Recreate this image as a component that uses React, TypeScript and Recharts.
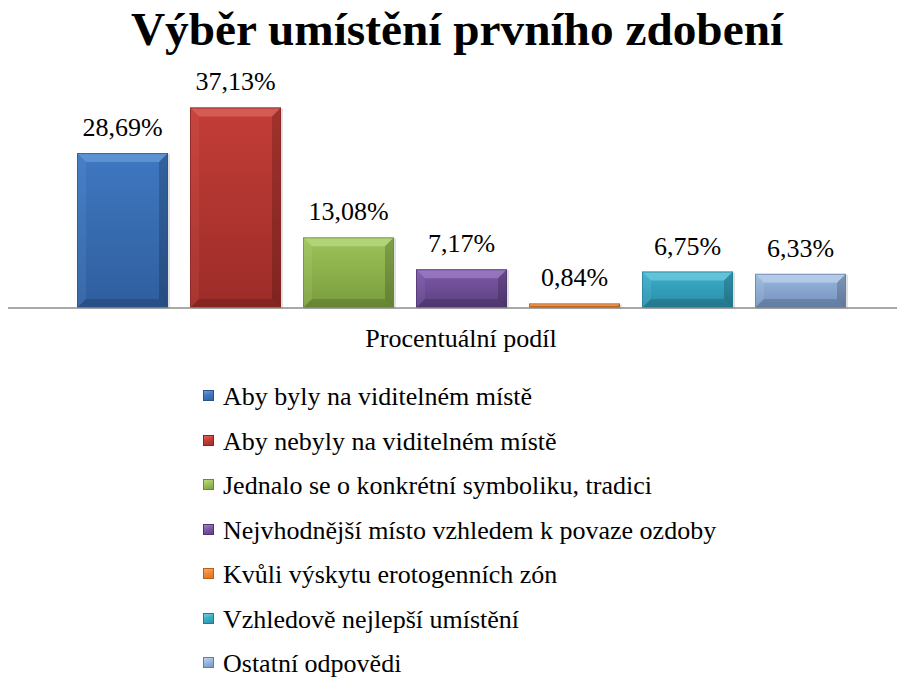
import React from 'react';
import { BarChart, Bar, XAxis, YAxis, Legend, LabelList } from 'recharts';

const categories = ['Procentuální podíl'];
const seriesNames = [
  'Aby byly na viditelném místě',
  'Aby nebyly na viditelném místě',
  'Jednalo se o konkrétní symboliku, tradici',
  'Nejvhodnější místo vzhledem k povaze ozdoby',
  'Kvůli výskytu erotogenních zón',
  'Vzhledově nejlepší umístění',
  'Ostatní odpovědi',
];
const seriesValues = [28.69, 37.13, 13.08, 7.17, 0.84, 6.75, 6.33];
const title = 'Výběr umístění prvního zdobení';

const PALETTE = [
  { top: '#3F78C1', bottom: '#2F5E9E', light: '#79A8E2', edge: '#2A5288' },
  { top: '#C43D37', bottom: '#9C2C28', light: '#E4746D', edge: '#852521' },
  { top: '#9DC35A', bottom: '#7A9C3C', light: '#C6E191', edge: '#6A8A33' },
  { top: '#7E5AA8', bottom: '#5B3F80', light: '#AD8DD4', edge: '#4C346D' },
  { top: '#F08A3A', bottom: '#D9731F', light: '#F8B57E', edge: '#B85F18' },
  { top: '#3BB0CB', bottom: '#2A8BA5', light: '#84D5E8', edge: '#237A91' },
  { top: '#9AB8DE', bottom: '#7490BC', light: '#CADDF4', edge: '#627EA6' },
];

const FONT = 'Liberation Serif, Times New Roman, serif';

const data = categories.map((name) => {
  const row: Record<string, string | number> = { name };
  seriesValues.forEach((v, i) => {
    row[`s${i}`] = v;
  });
  return row;
});

function BevelBar(props: any) {
  const { x, y, width, height, colorIndex } = props;
  if (!height || height <= 0) return null;
  const c = PALETTE[colorIndex];
  const b = Math.min(9, height / 2, width / 2);
  const id = `bargrad-${colorIndex}`;
  const x2 = x + width;
  const y2 = y + height;
  return (
    <g>
      <defs>
        <linearGradient id={id} x1="0" y1="0" x2="0" y2="1">
          <stop offset="0%" stopColor={c.top} />
          <stop offset="100%" stopColor={c.bottom} />
        </linearGradient>
      </defs>
      <rect x={x + 2} y={y + 1} width={width} height={height} fill="#000" opacity={0.12} />
      <rect x={x} y={y} width={width} height={height} fill={`url(#${id})`} />
      <polygon
        points={`${x},${y} ${x2},${y} ${x2 - b},${y + b} ${x + b},${y + b}`}
        fill={c.light}
        opacity={0.55}
      />
      <polygon
        points={`${x},${y} ${x + b},${y + b} ${x + b},${y2 - b} ${x},${y2}`}
        fill={c.light}
        opacity={0.15}
      />
      <polygon
        points={`${x2},${y} ${x2},${y2} ${x2 - b},${y2 - b} ${x2 - b},${y + b}`}
        fill="#000"
        opacity={0.18}
      />
      <polygon
        points={`${x},${y2} ${x + b},${y2 - b} ${x2 - b},${y2 - b} ${x2},${y2}`}
        fill="#000"
        opacity={0.15}
      />
      <rect x={x + 0.5} y={y + 0.5} width={width - 1} height={height - 1} fill="none" stroke={c.edge} strokeWidth={1} opacity={0.7} />
    </g>
  );
}

const fmt = (v: any) => `${Number(v).toFixed(2).replace('.', ',')}%`;

function LegendContent() {
  return (
    <div style={{ fontFamily: FONT, fontSize: 26, color: '#000', whiteSpace: 'nowrap' }}>
      {seriesNames.map((n, i) => {
        const c = PALETTE[i];
        return (
          <div key={n} style={{ lineHeight: '44.5px', height: 44.5 }}>
            <span
              style={{
                display: 'inline-block',
                width: 11,
                height: 11,
                marginRight: 9,
                verticalAlign: '4px',
                background: `linear-gradient(160deg, ${c.light} 0%, ${c.top} 45%, ${c.bottom} 100%)`,
                boxShadow: `inset 0 0 0 1px ${c.edge}`,
              }}
            />
            {n}
          </div>
        );
      })}
    </div>
  );
}

export default function App() {
  return (
    <div
      style={{
        position: 'absolute',
        left: 0,
        top: 0,
        width: 898,
        height: 678,
        overflow: 'hidden',
        background: '#fff',
        fontFamily: FONT,
      }}
    >
      <div
        style={{
          position: 'absolute',
          left: 8,
          top: 6,
          width: 898,
          textAlign: 'center',
          fontFamily: FONT,
          fontWeight: 'bold',
          fontSize: 47.3,
          lineHeight: '47px',
          color: '#000',
          whiteSpace: 'nowrap',
        }}
      >
        {title}
      </div>
      <BarChart
        width={898}
        height={678}
        data={data}
        margin={{ top: 92, right: 1, bottom: 340, left: 8 }}
        barGap={22}
        barCategoryGap={0}
      >
        <XAxis
          dataKey="name"
          type="category"
          height={30}
          padding={{ left: 69, right: 52 }}
          axisLine={{ stroke: '#8c8c8c', strokeWidth: 1.5 }}
          tickLine={false}
          tickSize={0}
          tickMargin={21}
          tick={{ fontSize: 26, fill: '#000', fontFamily: FONT }}
        />
        <YAxis hide domain={[0, 40]} />
        <Legend
          layout="vertical"
          verticalAlign="middle"
          align="center"
          content={<LegendContent />}
          wrapperStyle={{ left: 203, top: 375, width: 660, height: 312 }}
        />
        {seriesNames.map((n, i) => (
          <Bar
            key={n}
            dataKey={`s${i}`}
            name={n}
            fill={PALETTE[i].top}
            isAnimationActive={false}
            shape={(p: any) => <BevelBar {...p} colorIndex={i} />}
          >
            <LabelList
              dataKey={`s${i}`}
              position="top"
              offset={17}
              formatter={fmt}
              fontSize={26}
              fill="#000"
              fontFamily={FONT}
            />
          </Bar>
        ))}
      </BarChart>
    </div>
  );
}
